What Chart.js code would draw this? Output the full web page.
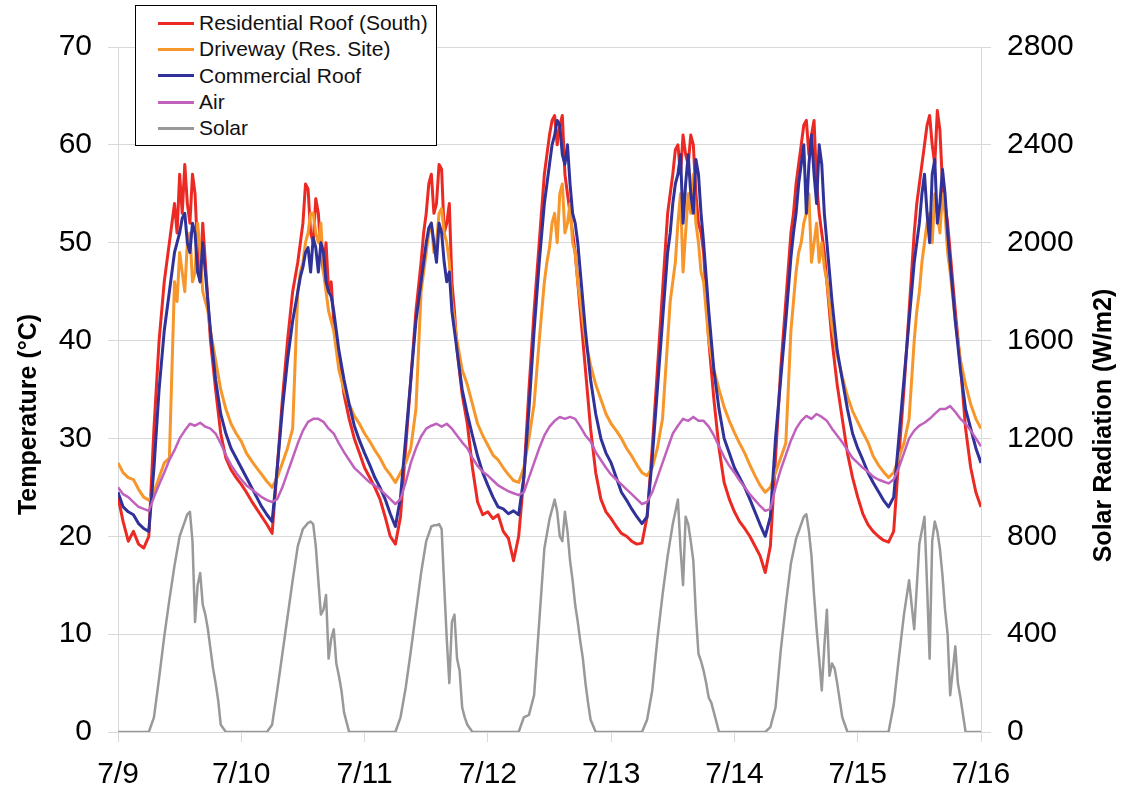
<!DOCTYPE html>
<html>
<head>
<meta charset="utf-8">
<script src="https://cdn.jsdelivr.net/npm/chart.js@4.4.1/dist/chart.umd.min.js"></script>
<style>
  html, body { margin: 0; padding: 0; background: #fff; }
  #wrap { position: relative; width: 1127px; height: 796px; }
  #legend {
    position: absolute; left: 135px; top: 5px; width: 302px; height: 141px;
    box-sizing: border-box; border: 1.5px solid #000; background: #fff;
    font-family: 'Liberation Sans', Arial, sans-serif; font-size: 21px; color: #111;
    padding-top: 4px;
  }
  #legend .row { display: flex; align-items: center; height: 26.3px; }
  #legend .swatch { width: 36px; height: 3px; margin-left: 22px; margin-right: 5px; }
</style>
</head>
<body>
<div id="wrap">
  <canvas id="temp-chart" width="1127" height="796"></canvas>
  <div id="legend"></div>
</div>
<script>
// hourly readings, 7/9 00:00 -> 7/16 00:00 (one row per day)
const dayLabels = ['7/9', '7/10', '7/11', '7/12', '7/13', '7/14', '7/15', '7/16'];

const resRoof = [
  24, 21.5, 19.5, 20.5, 19.2, 18.8, 20, 31, 40, 46, 50, 54, 57, 58, 52, 55, 46, 48, 40, 35, 30.5, 28, 26.8, 26,
  25.3, 24.5, 23.6, 22.8, 22, 21.2, 20.3, 27, 34, 40, 45, 48, 52, 55.5, 50, 53, 47, 45, 42, 38.5, 34.5, 32, 30, 28.5,
  27, 26, 25, 23.8, 22, 20, 19.2, 22, 29, 36, 43, 48, 53, 57, 54, 57.5, 52, 46, 39, 34.5, 31.5, 27, 23.5, 22.2,
  22.5, 21.8, 22.2, 20.5, 19.8, 17.5, 20, 26, 35, 43, 50, 57, 61, 63, 62, 57, 53, 49, 43, 37, 31, 26.5, 23.8, 22.5,
  21.8, 21, 20.3, 20, 19.5, 19.2, 19.3, 22, 29, 37, 45, 53, 57, 60, 61, 58, 60, 52, 49, 40, 34, 29, 25.5, 23.8,
  22.5, 21.5, 20.8, 20, 19, 18, 16.3, 19, 28, 37, 44, 51, 56, 60, 62.5, 61, 56, 51, 46, 40, 35.5, 32, 28.5, 26,
  24, 22.3, 21.2, 20.5, 20, 19.6, 19.4, 20.5, 28, 35, 43, 51, 56, 60, 63, 58, 61.5, 54, 49, 43, 37.5, 31, 27, 24.5,
  23
];
const driveway = [
  27.5, 26.5, 26, 25.8, 24.8, 24, 23.7, 24.5, 26, 27.5, 28, 46, 49, 45, 51, 47, 49, 44, 41, 38, 35, 33, 31.5, 30.5,
  29.7, 28.5, 27.7, 27, 26.3, 25.6, 25, 26, 27.5, 29, 31, 45, 48, 51, 53, 50, 47, 43, 41, 37, 35, 33.5, 32.3, 31.5,
  30.5, 29.7, 28.8, 28, 27, 26.3, 25.5, 26.5, 27.5, 29, 33, 45, 49, 52, 50, 53.5, 50, 44, 40, 37, 35.5, 33.5, 31.5, 30.3,
  29.3, 28.3, 27.8, 27, 26.3, 25.7, 25.5, 27, 30, 33.5, 40, 46, 49.5, 53, 55, 51, 54, 49, 44, 40, 37.5, 35.5, 34, 32.5,
  31.5, 30.8, 30, 29, 28.2, 27.3, 26.5, 26.2, 27, 29, 32, 40, 46, 52, 47, 55, 57, 50, 46, 40, 37, 35, 33.2, 31.8,
  30.6, 29.5, 28.5, 27.3, 26.2, 25.2, 24.5, 25, 26.5, 28, 29.5, 41, 47, 50, 53, 48, 52, 50, 46, 41.5, 38.5, 36.3, 34.3, 32.8,
  31.7, 30.6, 29.6, 28.2, 27.3, 26.6, 26, 26.5, 28, 29.5, 32, 40, 45, 50, 53, 55, 51, 53, 47, 42, 38, 35.5, 33.5, 32,
  31
];
const commRoof = [
  24.5, 23, 22.5, 22.2, 21.3, 20.8, 20.5, 27, 35, 41, 45, 49, 51, 53, 49, 51, 46, 47, 41, 36, 32.5, 30.5, 29, 28,
  27, 26, 25, 24, 23, 22.2, 21.5, 27, 33, 38, 42, 45, 47.5, 49.5, 50.5, 47, 49, 45, 43, 39, 36, 33.5, 31.3, 29.8,
  28.5, 27.3, 26, 25, 23.8, 22.3, 21, 24, 30, 36, 42, 46, 50, 52, 48, 51, 46, 43, 39, 35, 32.5, 30.3, 28.2, 26.5,
  25.2, 24, 23, 22.8, 22.3, 22.6, 22.2, 26, 33, 41, 48, 54, 58, 61, 62, 58, 56, 52, 47, 41, 36, 32.5, 30, 28.5,
  27.5, 26, 24.5, 23.7, 22.8, 22, 21.3, 22, 28, 35, 42, 49, 54, 57, 52, 59, 53, 57, 50, 43, 37, 33, 30, 28.5,
  27, 26, 25, 23.8, 22.5, 21.2, 20, 22, 30, 36, 42, 48.5, 53, 58, 53, 61, 54, 58, 50, 44, 39, 36, 33, 30.5,
  29, 27.8, 26.5, 25.5, 24.6, 23.7, 23, 24, 30, 36, 42, 48, 52, 57, 50, 58.5, 54, 55, 48, 42, 37, 33, 31, 29,
  27.5
];
const air = [
  25, 24.3, 24, 23.5, 23, 22.8, 22.6, 24, 25.3, 26.5, 27.8, 28.8, 30, 30.8, 31.5, 31.3, 31.6, 31.2, 31, 30.5, 29.5, 28.3, 27.3, 26.5,
  25.8, 25.2, 24.8, 24.4, 24, 23.7, 23.5, 23.8, 25, 26.5, 28, 29.5, 30.8, 31.7, 32, 32, 31.7, 31, 30.5, 29.5, 28.6, 27.8, 27, 26.5,
  26, 25.5, 25.2, 24.8, 24.3, 23.8, 23.3, 23.8, 25.5, 27.5, 29, 30.2, 31, 31.3, 31.5, 31.2, 31.5, 31, 30.3, 29.6, 29, 28, 27.2, 26.6,
  26.2, 25.7, 25.2, 24.9, 24.6, 24.4, 24.2, 24.5, 26, 27.5, 29, 30.3, 31.2, 31.8, 32.2, 32, 32.2, 32, 31.2, 30.3, 29.7, 28.6, 27.8, 27,
  26.3, 25.8, 25.3, 24.8, 24.3, 23.8, 23.3, 23.5, 24.5, 26, 27.5, 29, 30.5, 31.3, 32, 31.8, 32.2, 31.8, 31.8, 31.2, 30.3, 29.2, 28.1, 27.2,
  26.5, 25.7, 25, 24.3, 23.7, 23.1, 22.6, 22.8, 25, 26.8, 28.3, 29.8, 31, 31.8, 32.3, 32, 32.5, 32.2, 31.8, 31, 30.3, 29.6, 28.8, 28,
  27.5, 27, 26.6, 26.1, 25.8, 25.6, 25.4, 25.8, 27, 28.5, 30, 30.8, 31.3, 31.6, 32, 32.5, 33, 33, 33.3, 32.7, 32, 31.5, 30.8, 30,
  29.2
];
// W/m2, right axis
const solar = [
  0, 0, 0, 0, 0, 0, 0, 60, 220, 390, 540, 680, 800, 860, 900, 450, 650, 480, 340, 200, 30, 0, 0, 0,
  0, 0, 0, 0, 0, 0, 30, 170, 320, 470, 620, 760, 830, 855, 850, 620, 500, 300, 420, 230, 80, 0, 0, 0,
  0, 0, 0, 0, 0, 0, 0, 60, 180, 330, 490, 650, 780, 840, 845, 830, 380, 450, 300, 100, 30, 0, 0, 0,
  0, 0, 0, 0, 0, 0, 0, 60, 70, 150, 450, 750, 870, 950, 800, 900, 700, 520, 370, 200, 50, 0, 0, 0,
  0, 0, 0, 0, 0, 0, 0, 50, 170, 380, 560, 720, 850, 950, 600, 850, 700, 320, 250, 140, 80, 0, 0, 0,
  0, 0, 0, 0, 0, 0, 0, 20, 100, 330, 520, 690, 790, 850, 890, 720, 420, 170, 500, 280, 200, 60, 0, 0,
  0, 0, 0, 0, 0, 0, 0, 110, 300, 480, 620, 420, 770, 880, 300, 860, 750, 500, 150, 350, 140, 0, 0, 0,
  0
];

// extra half-hour readings in the noisy part of each day (one row per day)
// temperatures: hh:30 from 11:30 to 17:30
const resRoofMid = [
  [51, 53, 54, 57, 49, 52, 44],
  [50, 56, 51, 54.5, 49, 50, 46],
  [51, 56, 53, 58, 51, 54, 43],
  [59, 62.5, 60, 63, 55, 51, 46],
  [55, 59.5, 57, 59, 61, 55, 51],
  [53, 58, 62, 59, 62.5, 53, 49],
  [54, 58, 62, 60, 63.5, 56, 52]
];
const drivewayMid = [
  [44, 47, 50, 46, 52, 45, 43],
  [47, 50, 53, 51, 52, 45, 42],
  [47, 51, 49, 53, 51, 48, 42],
  [48, 52, 50, 56, 52, 50, 46],
  [44, 48, 55, 51, 53, 52, 47],
  [44, 49, 52, 55, 50, 48, 47.5],
  [43, 48, 52, 50, 53, 55, 49]
];
const commRoofMid = [
  [50, 52.5, 50, 52, 47, 50, 44],
  [46.5, 49, 47, 49.5, 50, 46, 44.5],
  [48, 51.5, 50, 52, 48, 47, 41],
  [56, 60, 62.5, 59, 60, 53, 50],
  [51, 56, 59, 56, 55, 58.5, 53],
  [51, 56, 60, 58, 57, 60, 53],
  [50, 55, 53, 57, 52, 57.5, 51]
];
// solar: hh:30 from 13:30 to 19:30
const solarMid = [
  [890, 780, 600, 520, 420, 260, 130],
  [860, 760, 480, 560, 380, 280, 170],
  [845, 850, 600, 200, 480, 250, 60],
  [900, 780, 820, 620, 450, 300, 120],
  [750, 880, 780, 480, 290, 200, 120],
  [880, 820, 560, 300, 350, 230, 260],
  [600, 780, 820, 640, 400, 250, 200]
];

function toPoints(hourly, mids, firstMid) {
    const pts = hourly.map(function (v, i) { return { x: i, y: v }; });
    mids.forEach(function (row, d) {
        row.forEach(function (v, k) {
            pts.push({ x: d * 24 + firstMid + k, y: v });
        });
    });
    return pts.sort(function (a, b) { return a.x - b.x; });
}
function hourlyPoints(hourly) {
    return hourly.map(function (v, i) { return { x: i, y: v }; });
}

const fontFamily = "'Liberation Sans', Arial, sans-serif";
Chart.defaults.font.family = fontFamily;
Chart.defaults.color = '#000';

// axis titles: both read bottom-to-top, sitting a bit below the middle like the original
const axisTitles = {
  id: 'axisTitles',
  afterDraw: function (chart) {
    const c = chart.ctx;
    const mid = (chart.chartArea.top + chart.chartArea.bottom) / 2;
    c.save();
    c.font = 'bold 25px ' + fontFamily;
    c.fillStyle = '#000';
    c.textAlign = 'center';
    c.textBaseline = 'middle';
    c.translate(29, mid + 25);
    c.rotate(-Math.PI / 2);
    c.fillText('Temperature (°C)', 0, 0);
    c.restore();
    c.save();
    c.font = 'bold 25px ' + fontFamily;
    c.fillStyle = '#000';
    c.textAlign = 'center';
    c.textBaseline = 'middle';
    c.translate(chart.scales.y2.right - 23, mid + 36);
    c.rotate(-Math.PI / 2);
    c.fillText('Solar Radiation (W/m2)', 0, 0);
    c.restore();
  }
};

const ctx = document.getElementById('temp-chart').getContext('2d');
var chart = new Chart(ctx, {
    type: 'line',
    data: {
        datasets: [
            { label: 'Residential Roof (South)', data: toPoints(resRoof, resRoofMid, 11.5), borderColor: '#ec2a24', order: 5, yAxisID: 'y' },
            { label: 'Driveway (Res. Site)', data: toPoints(driveway, drivewayMid, 11.5), borderColor: '#f7962a', order: 4, yAxisID: 'y' },
            { label: 'Commercial Roof', data: toPoints(commRoof, commRoofMid, 11.5), borderColor: '#30329a', order: 3, yAxisID: 'y' },
            { label: 'Air', data: hourlyPoints(air), borderColor: '#c062bd', borderWidth: 2.5, order: 2, yAxisID: 'y' },
            { label: 'Solar', data: toPoints(solar, solarMid, 13.5), borderColor: '#999999', borderWidth: 2.5, order: 1, yAxisID: 'y2' },
        ],
    },
    options: {
        responsive: false,
        animation: false,
        layout: { padding: { top: 47, left: 0, right: 0, bottom: 0 } },
        elements: {
            point: { radius: 0 },
            line: { tension: 0, borderWidth: 3, borderJoinStyle: 'round' },
        },
        plugins: {
            legend: { display: false },
            tooltip: { enabled: false },
        },
        scales: {
            x: {
                type: 'linear',
                min: 0,
                max: 168,
                ticks: {
                    stepSize: 24,
                    autoSkip: false,
                    maxRotation: 0,
                    padding: 15,
                    font: { size: 30 },
                    callback: function (value) {
                        return dayLabels[value / 24];
                    }
                },
                grid: { drawOnChartArea: false, tickLength: 10, color: '#d9d9d9' },
                border: { color: '#d9d9d9' },
                afterFit: function (scale) { scale.height = 64; }
            },
            y: {
                position: 'left',
                min: 0,
                max: 70,
                ticks: { stepSize: 10, padding: 16, font: { size: 30 } },
                grid: { color: '#d9d9d9', tickLength: 10 },
                border: { color: '#d9d9d9' },
                afterFit: function (scale) { scale.width = 118; }
            },
            y2: {
                position: 'right',
                min: 0,
                max: 2800,
                ticks: {
                    stepSize: 400,
                    padding: 16,
                    font: { size: 30 },
                    callback: function (value) { return String(value); }
                },
                grid: { drawOnChartArea: false, tickLength: 10, color: '#d9d9d9' },
                border: { color: '#d9d9d9' },
                afterFit: function (scale) { scale.width = 146; }
            },
        },
    },
    plugins: [axisTitles],
});

// boxed legend in the top-left corner, built from the datasets
const legendBox = document.getElementById('legend');
chart.data.datasets.forEach(function (ds) {
    const row = document.createElement('div');
    row.className = 'row';
    const sw = document.createElement('span');
    sw.className = 'swatch';
    sw.style.background = ds.borderColor;
    const txt = document.createElement('span');
    txt.textContent = ds.label;
    row.appendChild(sw);
    row.appendChild(txt);
    legendBox.appendChild(row);
});
</script>
</body>
</html>
